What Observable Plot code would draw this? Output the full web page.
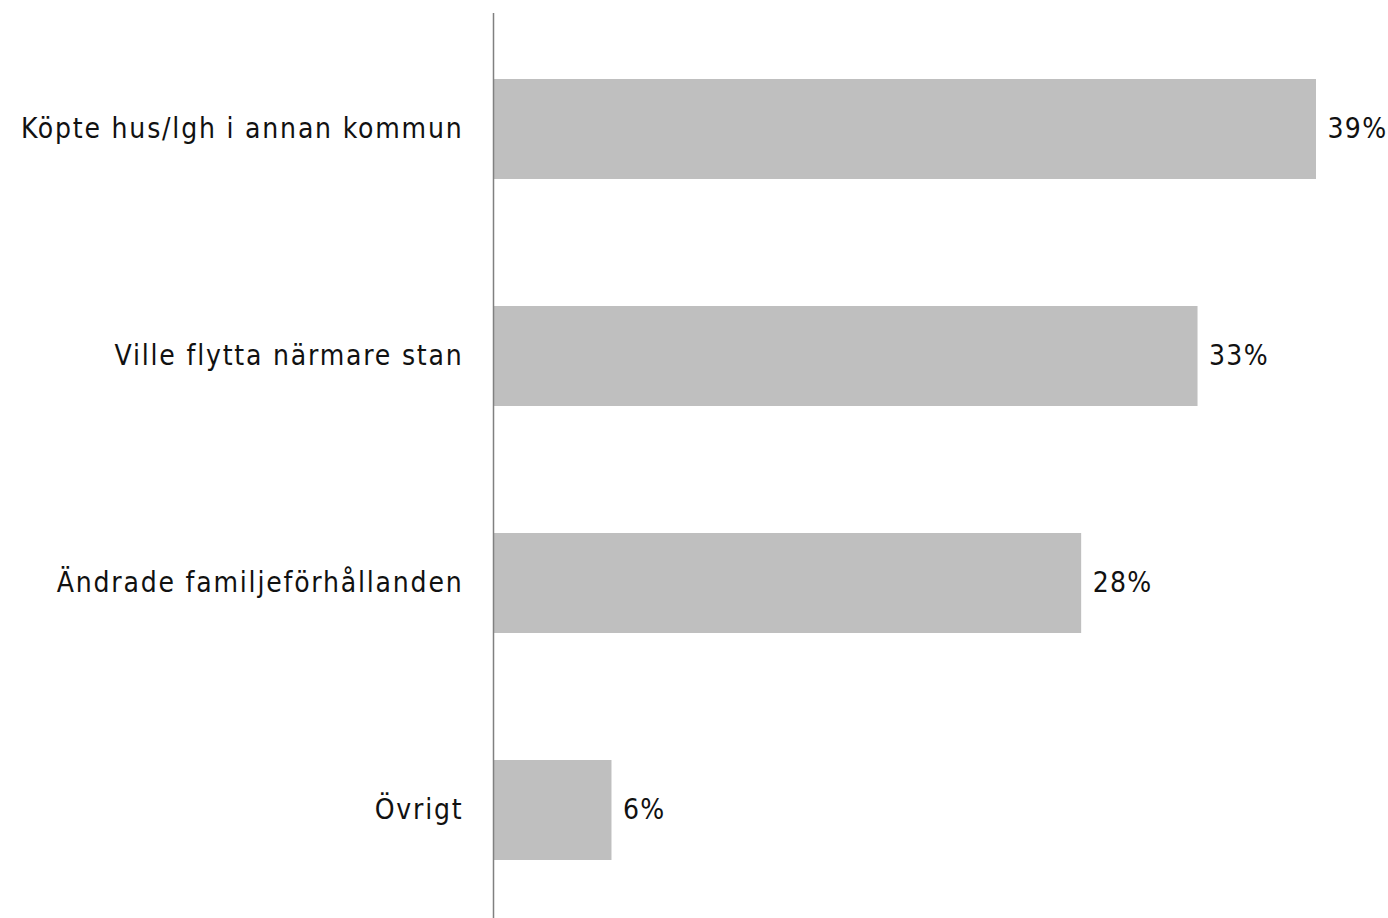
<!DOCTYPE html>
<html>
<head>
<meta charset="utf-8">
<script src="https://cdn.jsdelivr.net/npm/d3@7"></script>
<script src="https://cdn.jsdelivr.net/npm/@observablehq/plot@0.6"></script>
<style>
  html, body { margin: 0; padding: 0; background: #fff; }
  #chart svg { display: block; }
  #chart g[aria-label="y-axis tick label"] text { letter-spacing: 1.8px; }
  #chart g[aria-label="text"] text { letter-spacing: 1.3px; }
</style>
</head>
<body>
<div id="chart"></div>
<script>
const categories = ["Köpte hus/lgh i annan kommun", "Ville flytta närmare stan", "Ändrade familjeförhållanden", "Övrigt"];
const values = [38.9, 33.3, 27.8, 5.6];
const valueLabels = ["39%", "33%", "28%", "6%"];

const data = categories.map((c, i) => ({category: c, value: values[i], label: valueLabels[i]}));
const font = "'DejaVu Sans Condensed', 'DejaVu Sans', sans-serif";

const chart = Plot.plot({
  width: 1388,
  height: 918,
  marginLeft: 493,
  marginRight: 72,
  marginTop: 20,
  marginBottom: 0,
  style: {fontFamily: font, background: "#fff", color: "#111"},
  x: {domain: [0, 38.9], axis: null},
  y: {domain: categories, paddingInner: 0.56, paddingOuter: 0.25, label: null},
  marks: [
    Plot.barX(data, {x: "value", y: "category", fill: "#bfbfbf"}),
    Plot.ruleX([0], {stroke: "#808080", strokeWidth: 1.5, insetTop: -7}),
    Plot.axisY({tickSize: 0, tickPadding: 30, fontSize: 28, label: null, fill: "#111"}),
    Plot.text(data, {x: "value", y: "category", text: "label", dx: 11, textAnchor: "start", fontSize: 28, fill: "#111"})
  ]
});
document.getElementById("chart").appendChild(chart);
</script>
</body>
</html>
